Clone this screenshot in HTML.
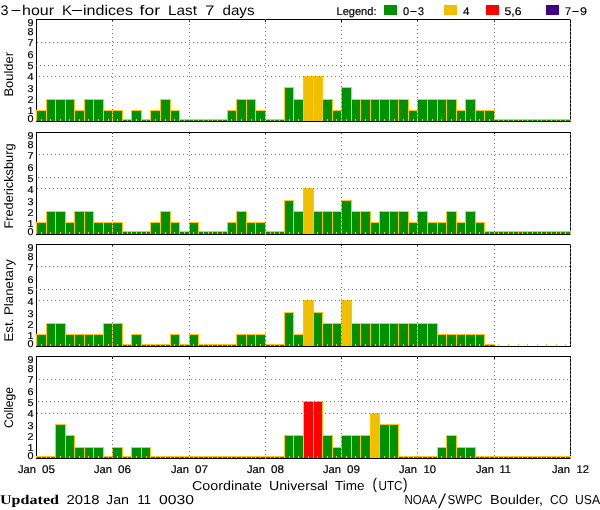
<!DOCTYPE html>
<html lang="en">
<head>
<meta charset="utf-8">
<title>3-hour K-indices for Last 7 days</title>
<style>
html,body{margin:0;padding:0;background:#fff;}
body{width:600px;height:510px;overflow:hidden;}
svg{display:block;}
text{font-family:"Liberation Sans",sans-serif;fill:#000;text-rendering:geometricPrecision;}
.tk{stroke:#000;stroke-width:.2px;}
</style>
</head>
<body>
<svg width="600" height="510" viewBox="0 0 600 510">
<rect width="600" height="510" fill="#fff"/>
<g shape-rendering="crispEdges">
<rect x="36" y="19" width="535" height="1" fill="#000"/>
<rect x="36" y="19" width="1" height="103" fill="#000"/>
<rect x="570" y="19" width="1" height="103" fill="#000"/>
<rect x="36" y="110" width="11" height="11" fill="#ffc800"/>
<rect x="37" y="111" width="9" height="10" fill="#009000"/>
<rect x="46" y="99" width="10" height="22" fill="#ffc800"/>
<rect x="47" y="100" width="8" height="21" fill="#009000"/>
<rect x="55" y="99" width="11" height="22" fill="#ffc800"/>
<rect x="56" y="100" width="9" height="21" fill="#009000"/>
<rect x="65" y="99" width="10" height="22" fill="#ffc800"/>
<rect x="66" y="100" width="8" height="21" fill="#009000"/>
<rect x="74" y="110" width="11" height="11" fill="#ffc800"/>
<rect x="75" y="111" width="9" height="10" fill="#009000"/>
<rect x="84" y="99" width="10" height="22" fill="#ffc800"/>
<rect x="85" y="100" width="8" height="21" fill="#009000"/>
<rect x="93" y="99" width="11" height="22" fill="#ffc800"/>
<rect x="94" y="100" width="9" height="21" fill="#009000"/>
<rect x="103" y="110" width="10" height="11" fill="#ffc800"/>
<rect x="104" y="111" width="8" height="10" fill="#009000"/>
<rect x="112" y="110" width="11" height="11" fill="#ffc800"/>
<rect x="113" y="111" width="9" height="10" fill="#009000"/>
<rect x="122" y="119" width="10" height="2" fill="#ffc800"/>
<rect x="123" y="120" width="8" height="1" fill="#009000"/>
<rect x="131" y="110" width="11" height="11" fill="#ffc800"/>
<rect x="132" y="111" width="9" height="10" fill="#009000"/>
<rect x="141" y="119" width="10" height="2" fill="#ffc800"/>
<rect x="142" y="120" width="8" height="1" fill="#009000"/>
<rect x="150" y="110" width="11" height="11" fill="#ffc800"/>
<rect x="151" y="111" width="9" height="10" fill="#009000"/>
<rect x="160" y="99" width="11" height="22" fill="#ffc800"/>
<rect x="161" y="100" width="9" height="21" fill="#009000"/>
<rect x="170" y="110" width="10" height="11" fill="#ffc800"/>
<rect x="171" y="111" width="8" height="10" fill="#009000"/>
<rect x="179" y="119" width="11" height="2" fill="#ffc800"/>
<rect x="180" y="120" width="9" height="1" fill="#009000"/>
<rect x="189" y="119" width="10" height="2" fill="#ffc800"/>
<rect x="190" y="120" width="8" height="1" fill="#009000"/>
<rect x="198" y="119" width="11" height="2" fill="#ffc800"/>
<rect x="199" y="120" width="9" height="1" fill="#009000"/>
<rect x="208" y="119" width="10" height="2" fill="#ffc800"/>
<rect x="209" y="120" width="8" height="1" fill="#009000"/>
<rect x="217" y="119" width="11" height="2" fill="#ffc800"/>
<rect x="218" y="120" width="9" height="1" fill="#009000"/>
<rect x="227" y="110" width="10" height="11" fill="#ffc800"/>
<rect x="228" y="111" width="8" height="10" fill="#009000"/>
<rect x="236" y="99" width="11" height="22" fill="#ffc800"/>
<rect x="237" y="100" width="9" height="21" fill="#009000"/>
<rect x="246" y="99" width="10" height="22" fill="#ffc800"/>
<rect x="247" y="100" width="8" height="21" fill="#009000"/>
<rect x="255" y="110" width="11" height="11" fill="#ffc800"/>
<rect x="256" y="111" width="9" height="10" fill="#009000"/>
<rect x="265" y="119" width="10" height="2" fill="#ffc800"/>
<rect x="266" y="120" width="8" height="1" fill="#009000"/>
<rect x="274" y="119" width="11" height="2" fill="#ffc800"/>
<rect x="275" y="120" width="9" height="1" fill="#009000"/>
<rect x="284" y="87" width="10" height="34" fill="#ffc800"/>
<rect x="285" y="88" width="8" height="33" fill="#009000"/>
<rect x="293" y="99" width="11" height="22" fill="#ffc800"/>
<rect x="294" y="100" width="9" height="21" fill="#009000"/>
<rect x="303" y="76" width="11" height="45" fill="#ffc800"/>
<rect x="304" y="77" width="9" height="44" fill="#f0c000"/>
<rect x="313" y="76" width="10" height="45" fill="#ffc800"/>
<rect x="314" y="77" width="8" height="44" fill="#f0c000"/>
<rect x="322" y="99" width="11" height="22" fill="#ffc800"/>
<rect x="323" y="100" width="9" height="21" fill="#009000"/>
<rect x="332" y="110" width="10" height="11" fill="#ffc800"/>
<rect x="333" y="111" width="8" height="10" fill="#009000"/>
<rect x="341" y="87" width="11" height="34" fill="#ffc800"/>
<rect x="342" y="88" width="9" height="33" fill="#009000"/>
<rect x="351" y="99" width="10" height="22" fill="#ffc800"/>
<rect x="352" y="100" width="8" height="21" fill="#009000"/>
<rect x="360" y="99" width="11" height="22" fill="#ffc800"/>
<rect x="361" y="100" width="9" height="21" fill="#009000"/>
<rect x="370" y="99" width="10" height="22" fill="#ffc800"/>
<rect x="371" y="100" width="8" height="21" fill="#009000"/>
<rect x="379" y="99" width="11" height="22" fill="#ffc800"/>
<rect x="380" y="100" width="9" height="21" fill="#009000"/>
<rect x="389" y="99" width="10" height="22" fill="#ffc800"/>
<rect x="390" y="100" width="8" height="21" fill="#009000"/>
<rect x="398" y="99" width="11" height="22" fill="#ffc800"/>
<rect x="399" y="100" width="9" height="21" fill="#009000"/>
<rect x="408" y="110" width="10" height="11" fill="#ffc800"/>
<rect x="409" y="111" width="8" height="10" fill="#009000"/>
<rect x="417" y="99" width="11" height="22" fill="#ffc800"/>
<rect x="418" y="100" width="9" height="21" fill="#009000"/>
<rect x="427" y="99" width="11" height="22" fill="#ffc800"/>
<rect x="428" y="100" width="9" height="21" fill="#009000"/>
<rect x="437" y="99" width="10" height="22" fill="#ffc800"/>
<rect x="438" y="100" width="8" height="21" fill="#009000"/>
<rect x="446" y="99" width="11" height="22" fill="#ffc800"/>
<rect x="447" y="100" width="9" height="21" fill="#009000"/>
<rect x="456" y="110" width="10" height="11" fill="#ffc800"/>
<rect x="457" y="111" width="8" height="10" fill="#009000"/>
<rect x="465" y="99" width="11" height="22" fill="#ffc800"/>
<rect x="466" y="100" width="9" height="21" fill="#009000"/>
<rect x="475" y="110" width="10" height="11" fill="#ffc800"/>
<rect x="476" y="111" width="8" height="10" fill="#009000"/>
<rect x="484" y="110" width="11" height="11" fill="#ffc800"/>
<rect x="485" y="111" width="9" height="10" fill="#009000"/>
<rect x="494" y="119" width="10" height="2" fill="#ffc800"/>
<rect x="495" y="120" width="8" height="1" fill="#009000"/>
<rect x="503" y="119" width="11" height="2" fill="#ffc800"/>
<rect x="504" y="120" width="9" height="1" fill="#009000"/>
<rect x="513" y="119" width="10" height="2" fill="#ffc800"/>
<rect x="514" y="120" width="8" height="1" fill="#009000"/>
<rect x="522" y="119" width="11" height="2" fill="#ffc800"/>
<rect x="523" y="120" width="9" height="1" fill="#009000"/>
<rect x="532" y="119" width="10" height="2" fill="#ffc800"/>
<rect x="533" y="120" width="8" height="1" fill="#009000"/>
<rect x="541" y="119" width="11" height="2" fill="#ffc800"/>
<rect x="542" y="120" width="9" height="1" fill="#009000"/>
<rect x="551" y="119" width="10" height="2" fill="#ffc800"/>
<rect x="552" y="120" width="8" height="1" fill="#009000"/>
<rect x="560" y="119" width="11" height="2" fill="#ffc800"/>
<rect x="561" y="120" width="9" height="1" fill="#009000"/>
<rect x="36" y="121" width="535" height="1" fill="#000"/>
<rect x="41" y="119" width="1" height="2" fill="#ffc800"/>
<rect x="50" y="119" width="1" height="2" fill="#ffc800"/>
<rect x="60" y="119" width="1" height="2" fill="#ffc800"/>
<rect x="69" y="119" width="1" height="2" fill="#ffc800"/>
<rect x="79" y="119" width="1" height="2" fill="#ffc800"/>
<rect x="88" y="119" width="1" height="2" fill="#ffc800"/>
<rect x="98" y="119" width="1" height="2" fill="#ffc800"/>
<rect x="108" y="119" width="1" height="2" fill="#ffc800"/>
<rect x="117" y="119" width="1" height="2" fill="#ffc800"/>
<rect x="127" y="119" width="1" height="2" fill="#ffc800"/>
<rect x="136" y="119" width="1" height="2" fill="#ffc800"/>
<rect x="146" y="119" width="1" height="2" fill="#ffc800"/>
<rect x="155" y="119" width="1" height="2" fill="#ffc800"/>
<rect x="165" y="119" width="1" height="2" fill="#ffc800"/>
<rect x="174" y="119" width="1" height="2" fill="#ffc800"/>
<rect x="184" y="119" width="1" height="2" fill="#ffc800"/>
<rect x="193" y="119" width="1" height="2" fill="#ffc800"/>
<rect x="203" y="119" width="1" height="2" fill="#ffc800"/>
<rect x="212" y="119" width="1" height="2" fill="#ffc800"/>
<rect x="222" y="119" width="1" height="2" fill="#ffc800"/>
<rect x="231" y="119" width="1" height="2" fill="#ffc800"/>
<rect x="241" y="119" width="1" height="2" fill="#ffc800"/>
<rect x="251" y="119" width="1" height="2" fill="#ffc800"/>
<rect x="260" y="119" width="1" height="2" fill="#ffc800"/>
<rect x="270" y="119" width="1" height="2" fill="#ffc800"/>
<rect x="279" y="119" width="1" height="2" fill="#ffc800"/>
<rect x="289" y="119" width="1" height="2" fill="#ffc800"/>
<rect x="298" y="119" width="1" height="2" fill="#ffc800"/>
<rect x="308" y="119" width="1" height="2" fill="#ffc800"/>
<rect x="317" y="119" width="1" height="2" fill="#ffc800"/>
<rect x="327" y="119" width="1" height="2" fill="#ffc800"/>
<rect x="336" y="119" width="1" height="2" fill="#ffc800"/>
<rect x="346" y="119" width="1" height="2" fill="#ffc800"/>
<rect x="355" y="119" width="1" height="2" fill="#ffc800"/>
<rect x="365" y="119" width="1" height="2" fill="#ffc800"/>
<rect x="375" y="119" width="1" height="2" fill="#ffc800"/>
<rect x="384" y="119" width="1" height="2" fill="#ffc800"/>
<rect x="394" y="119" width="1" height="2" fill="#ffc800"/>
<rect x="403" y="119" width="1" height="2" fill="#ffc800"/>
<rect x="413" y="119" width="1" height="2" fill="#ffc800"/>
<rect x="422" y="119" width="1" height="2" fill="#ffc800"/>
<rect x="432" y="119" width="1" height="2" fill="#ffc800"/>
<rect x="441" y="119" width="1" height="2" fill="#ffc800"/>
<rect x="451" y="119" width="1" height="2" fill="#ffc800"/>
<rect x="460" y="119" width="1" height="2" fill="#ffc800"/>
<rect x="470" y="119" width="1" height="2" fill="#ffc800"/>
<rect x="479" y="119" width="1" height="2" fill="#ffc800"/>
<rect x="489" y="119" width="1" height="2" fill="#ffc800"/>
<rect x="498" y="119" width="1" height="2" fill="#ffc800"/>
<rect x="508" y="119" width="1" height="2" fill="#ffc800"/>
<rect x="518" y="119" width="1" height="2" fill="#ffc800"/>
<rect x="527" y="119" width="1" height="2" fill="#ffc800"/>
<rect x="537" y="119" width="1" height="2" fill="#ffc800"/>
<rect x="546" y="119" width="1" height="2" fill="#ffc800"/>
<rect x="556" y="119" width="1" height="2" fill="#ffc800"/>
<rect x="565" y="119" width="1" height="2" fill="#ffc800"/>
<rect x="112" y="20" width="1" height="2" fill="#000"/>
<rect x="189" y="20" width="1" height="2" fill="#000"/>
<rect x="265" y="20" width="1" height="2" fill="#000"/>
<rect x="341" y="20" width="1" height="2" fill="#000"/>
<rect x="417" y="20" width="1" height="2" fill="#000"/>
<rect x="494" y="20" width="1" height="2" fill="#000"/>
<line x1="112.5" y1="122" x2="112.5" y2="19" stroke="#787878" stroke-dasharray="1 3"/>
<line x1="189.5" y1="121" x2="189.5" y2="19" stroke="#787878" stroke-dasharray="1 3"/>
<line x1="265.5" y1="120" x2="265.5" y2="19" stroke="#787878" stroke-dasharray="1 3"/>
<line x1="341.5" y1="119" x2="341.5" y2="19" stroke="#787878" stroke-dasharray="1 3"/>
<line x1="417.5" y1="122" x2="417.5" y2="19" stroke="#787878" stroke-dasharray="1 3"/>
<line x1="494.5" y1="121" x2="494.5" y2="19" stroke="#787878" stroke-dasharray="1 3"/>
<line x1="570.5" y1="120" x2="570.5" y2="19" stroke="#787878" stroke-dasharray="1 3"/>
<line x1="39" y1="76.5" x2="571" y2="76.5" stroke="#787878" stroke-dasharray="1 3"/>
<line x1="36" y1="65.5" x2="571" y2="65.5" stroke="#787878" stroke-dasharray="1 3"/>
<line x1="37" y1="42.5" x2="571" y2="42.5" stroke="#787878" stroke-dasharray="1 3"/>
<rect x="36" y="132" width="535" height="1" fill="#000"/>
<rect x="36" y="132" width="1" height="103" fill="#000"/>
<rect x="570" y="132" width="1" height="103" fill="#000"/>
<rect x="36" y="222" width="11" height="12" fill="#ffc800"/>
<rect x="37" y="223" width="9" height="11" fill="#009000"/>
<rect x="46" y="211" width="10" height="23" fill="#ffc800"/>
<rect x="47" y="212" width="8" height="22" fill="#009000"/>
<rect x="55" y="211" width="11" height="23" fill="#ffc800"/>
<rect x="56" y="212" width="9" height="22" fill="#009000"/>
<rect x="65" y="222" width="10" height="12" fill="#ffc800"/>
<rect x="66" y="223" width="8" height="11" fill="#009000"/>
<rect x="74" y="211" width="11" height="23" fill="#ffc800"/>
<rect x="75" y="212" width="9" height="22" fill="#009000"/>
<rect x="84" y="211" width="10" height="23" fill="#ffc800"/>
<rect x="85" y="212" width="8" height="22" fill="#009000"/>
<rect x="93" y="222" width="11" height="12" fill="#ffc800"/>
<rect x="94" y="223" width="9" height="11" fill="#009000"/>
<rect x="103" y="222" width="10" height="12" fill="#ffc800"/>
<rect x="104" y="223" width="8" height="11" fill="#009000"/>
<rect x="112" y="222" width="11" height="12" fill="#ffc800"/>
<rect x="113" y="223" width="9" height="11" fill="#009000"/>
<rect x="122" y="231" width="10" height="3" fill="#ffc800"/>
<rect x="123" y="232" width="8" height="2" fill="#009000"/>
<rect x="131" y="231" width="11" height="3" fill="#ffc800"/>
<rect x="132" y="232" width="9" height="2" fill="#009000"/>
<rect x="141" y="231" width="10" height="3" fill="#ffc800"/>
<rect x="142" y="232" width="8" height="2" fill="#009000"/>
<rect x="150" y="222" width="11" height="12" fill="#ffc800"/>
<rect x="151" y="223" width="9" height="11" fill="#009000"/>
<rect x="160" y="211" width="11" height="23" fill="#ffc800"/>
<rect x="161" y="212" width="9" height="22" fill="#009000"/>
<rect x="170" y="222" width="10" height="12" fill="#ffc800"/>
<rect x="171" y="223" width="8" height="11" fill="#009000"/>
<rect x="179" y="231" width="11" height="3" fill="#ffc800"/>
<rect x="180" y="232" width="9" height="2" fill="#009000"/>
<rect x="189" y="222" width="10" height="12" fill="#ffc800"/>
<rect x="190" y="223" width="8" height="11" fill="#009000"/>
<rect x="198" y="231" width="11" height="3" fill="#ffc800"/>
<rect x="199" y="232" width="9" height="2" fill="#009000"/>
<rect x="208" y="231" width="10" height="3" fill="#ffc800"/>
<rect x="209" y="232" width="8" height="2" fill="#009000"/>
<rect x="217" y="231" width="11" height="3" fill="#ffc800"/>
<rect x="218" y="232" width="9" height="2" fill="#009000"/>
<rect x="227" y="222" width="10" height="12" fill="#ffc800"/>
<rect x="228" y="223" width="8" height="11" fill="#009000"/>
<rect x="236" y="211" width="11" height="23" fill="#ffc800"/>
<rect x="237" y="212" width="9" height="22" fill="#009000"/>
<rect x="246" y="222" width="10" height="12" fill="#ffc800"/>
<rect x="247" y="223" width="8" height="11" fill="#009000"/>
<rect x="255" y="222" width="11" height="12" fill="#ffc800"/>
<rect x="256" y="223" width="9" height="11" fill="#009000"/>
<rect x="265" y="231" width="10" height="3" fill="#ffc800"/>
<rect x="266" y="232" width="8" height="2" fill="#009000"/>
<rect x="274" y="231" width="11" height="3" fill="#ffc800"/>
<rect x="275" y="232" width="9" height="2" fill="#009000"/>
<rect x="284" y="200" width="10" height="34" fill="#ffc800"/>
<rect x="285" y="201" width="8" height="33" fill="#009000"/>
<rect x="293" y="211" width="11" height="23" fill="#ffc800"/>
<rect x="294" y="212" width="9" height="22" fill="#009000"/>
<rect x="303" y="188" width="11" height="46" fill="#ffc800"/>
<rect x="304" y="189" width="9" height="45" fill="#f0c000"/>
<rect x="313" y="211" width="10" height="23" fill="#ffc800"/>
<rect x="314" y="212" width="8" height="22" fill="#009000"/>
<rect x="322" y="211" width="11" height="23" fill="#ffc800"/>
<rect x="323" y="212" width="9" height="22" fill="#009000"/>
<rect x="332" y="211" width="10" height="23" fill="#ffc800"/>
<rect x="333" y="212" width="8" height="22" fill="#009000"/>
<rect x="341" y="200" width="11" height="34" fill="#ffc800"/>
<rect x="342" y="201" width="9" height="33" fill="#009000"/>
<rect x="351" y="211" width="10" height="23" fill="#ffc800"/>
<rect x="352" y="212" width="8" height="22" fill="#009000"/>
<rect x="360" y="211" width="11" height="23" fill="#ffc800"/>
<rect x="361" y="212" width="9" height="22" fill="#009000"/>
<rect x="370" y="222" width="10" height="12" fill="#ffc800"/>
<rect x="371" y="223" width="8" height="11" fill="#009000"/>
<rect x="379" y="211" width="11" height="23" fill="#ffc800"/>
<rect x="380" y="212" width="9" height="22" fill="#009000"/>
<rect x="389" y="211" width="10" height="23" fill="#ffc800"/>
<rect x="390" y="212" width="8" height="22" fill="#009000"/>
<rect x="398" y="211" width="11" height="23" fill="#ffc800"/>
<rect x="399" y="212" width="9" height="22" fill="#009000"/>
<rect x="408" y="222" width="10" height="12" fill="#ffc800"/>
<rect x="409" y="223" width="8" height="11" fill="#009000"/>
<rect x="417" y="211" width="11" height="23" fill="#ffc800"/>
<rect x="418" y="212" width="9" height="22" fill="#009000"/>
<rect x="427" y="222" width="11" height="12" fill="#ffc800"/>
<rect x="428" y="223" width="9" height="11" fill="#009000"/>
<rect x="437" y="222" width="10" height="12" fill="#ffc800"/>
<rect x="438" y="223" width="8" height="11" fill="#009000"/>
<rect x="446" y="211" width="11" height="23" fill="#ffc800"/>
<rect x="447" y="212" width="9" height="22" fill="#009000"/>
<rect x="456" y="222" width="10" height="12" fill="#ffc800"/>
<rect x="457" y="223" width="8" height="11" fill="#009000"/>
<rect x="465" y="211" width="11" height="23" fill="#ffc800"/>
<rect x="466" y="212" width="9" height="22" fill="#009000"/>
<rect x="475" y="222" width="10" height="12" fill="#ffc800"/>
<rect x="476" y="223" width="8" height="11" fill="#009000"/>
<rect x="484" y="231" width="11" height="3" fill="#ffc800"/>
<rect x="485" y="232" width="9" height="2" fill="#009000"/>
<rect x="494" y="231" width="10" height="3" fill="#ffc800"/>
<rect x="495" y="232" width="8" height="2" fill="#009000"/>
<rect x="503" y="231" width="11" height="3" fill="#ffc800"/>
<rect x="504" y="232" width="9" height="2" fill="#009000"/>
<rect x="513" y="231" width="10" height="3" fill="#ffc800"/>
<rect x="514" y="232" width="8" height="2" fill="#009000"/>
<rect x="522" y="231" width="11" height="3" fill="#ffc800"/>
<rect x="523" y="232" width="9" height="2" fill="#009000"/>
<rect x="532" y="231" width="10" height="3" fill="#ffc800"/>
<rect x="533" y="232" width="8" height="2" fill="#009000"/>
<rect x="541" y="231" width="11" height="3" fill="#ffc800"/>
<rect x="542" y="232" width="9" height="2" fill="#009000"/>
<rect x="551" y="231" width="10" height="3" fill="#ffc800"/>
<rect x="552" y="232" width="8" height="2" fill="#009000"/>
<rect x="560" y="231" width="11" height="3" fill="#ffc800"/>
<rect x="561" y="232" width="9" height="2" fill="#009000"/>
<rect x="36" y="234" width="535" height="1" fill="#000"/>
<rect x="41" y="232" width="1" height="2" fill="#ffc800"/>
<rect x="50" y="232" width="1" height="2" fill="#ffc800"/>
<rect x="60" y="232" width="1" height="2" fill="#ffc800"/>
<rect x="69" y="232" width="1" height="2" fill="#ffc800"/>
<rect x="79" y="232" width="1" height="2" fill="#ffc800"/>
<rect x="88" y="232" width="1" height="2" fill="#ffc800"/>
<rect x="98" y="232" width="1" height="2" fill="#ffc800"/>
<rect x="108" y="232" width="1" height="2" fill="#ffc800"/>
<rect x="117" y="232" width="1" height="2" fill="#ffc800"/>
<rect x="127" y="232" width="1" height="2" fill="#ffc800"/>
<rect x="136" y="232" width="1" height="2" fill="#ffc800"/>
<rect x="146" y="232" width="1" height="2" fill="#ffc800"/>
<rect x="155" y="232" width="1" height="2" fill="#ffc800"/>
<rect x="165" y="232" width="1" height="2" fill="#ffc800"/>
<rect x="174" y="232" width="1" height="2" fill="#ffc800"/>
<rect x="184" y="232" width="1" height="2" fill="#ffc800"/>
<rect x="193" y="232" width="1" height="2" fill="#ffc800"/>
<rect x="203" y="232" width="1" height="2" fill="#ffc800"/>
<rect x="212" y="232" width="1" height="2" fill="#ffc800"/>
<rect x="222" y="232" width="1" height="2" fill="#ffc800"/>
<rect x="231" y="232" width="1" height="2" fill="#ffc800"/>
<rect x="241" y="232" width="1" height="2" fill="#ffc800"/>
<rect x="251" y="232" width="1" height="2" fill="#ffc800"/>
<rect x="260" y="232" width="1" height="2" fill="#ffc800"/>
<rect x="270" y="232" width="1" height="2" fill="#ffc800"/>
<rect x="279" y="232" width="1" height="2" fill="#ffc800"/>
<rect x="289" y="232" width="1" height="2" fill="#ffc800"/>
<rect x="298" y="232" width="1" height="2" fill="#ffc800"/>
<rect x="308" y="232" width="1" height="2" fill="#ffc800"/>
<rect x="317" y="232" width="1" height="2" fill="#ffc800"/>
<rect x="327" y="232" width="1" height="2" fill="#ffc800"/>
<rect x="336" y="232" width="1" height="2" fill="#ffc800"/>
<rect x="346" y="232" width="1" height="2" fill="#ffc800"/>
<rect x="355" y="232" width="1" height="2" fill="#ffc800"/>
<rect x="365" y="232" width="1" height="2" fill="#ffc800"/>
<rect x="375" y="232" width="1" height="2" fill="#ffc800"/>
<rect x="384" y="232" width="1" height="2" fill="#ffc800"/>
<rect x="394" y="232" width="1" height="2" fill="#ffc800"/>
<rect x="403" y="232" width="1" height="2" fill="#ffc800"/>
<rect x="413" y="232" width="1" height="2" fill="#ffc800"/>
<rect x="422" y="232" width="1" height="2" fill="#ffc800"/>
<rect x="432" y="232" width="1" height="2" fill="#ffc800"/>
<rect x="441" y="232" width="1" height="2" fill="#ffc800"/>
<rect x="451" y="232" width="1" height="2" fill="#ffc800"/>
<rect x="460" y="232" width="1" height="2" fill="#ffc800"/>
<rect x="470" y="232" width="1" height="2" fill="#ffc800"/>
<rect x="479" y="232" width="1" height="2" fill="#ffc800"/>
<rect x="489" y="232" width="1" height="2" fill="#ffc800"/>
<rect x="498" y="232" width="1" height="2" fill="#ffc800"/>
<rect x="508" y="232" width="1" height="2" fill="#ffc800"/>
<rect x="518" y="232" width="1" height="2" fill="#ffc800"/>
<rect x="527" y="232" width="1" height="2" fill="#ffc800"/>
<rect x="537" y="232" width="1" height="2" fill="#ffc800"/>
<rect x="546" y="232" width="1" height="2" fill="#ffc800"/>
<rect x="556" y="232" width="1" height="2" fill="#ffc800"/>
<rect x="565" y="232" width="1" height="2" fill="#ffc800"/>
<rect x="112" y="133" width="1" height="1" fill="#000"/>
<rect x="189" y="133" width="1" height="1" fill="#000"/>
<rect x="265" y="133" width="1" height="1" fill="#000"/>
<rect x="341" y="133" width="1" height="1" fill="#000"/>
<rect x="417" y="133" width="1" height="1" fill="#000"/>
<rect x="494" y="133" width="1" height="1" fill="#000"/>
<line x1="112.5" y1="233" x2="112.5" y2="132" stroke="#787878" stroke-dasharray="1 3"/>
<line x1="189.5" y1="232" x2="189.5" y2="132" stroke="#787878" stroke-dasharray="1 3"/>
<line x1="265.5" y1="235" x2="265.5" y2="132" stroke="#787878" stroke-dasharray="1 3"/>
<line x1="341.5" y1="234" x2="341.5" y2="132" stroke="#787878" stroke-dasharray="1 3"/>
<line x1="417.5" y1="233" x2="417.5" y2="132" stroke="#787878" stroke-dasharray="1 3"/>
<line x1="494.5" y1="232" x2="494.5" y2="132" stroke="#787878" stroke-dasharray="1 3"/>
<line x1="570.5" y1="235" x2="570.5" y2="132" stroke="#787878" stroke-dasharray="1 3"/>
<line x1="37" y1="188.5" x2="571" y2="188.5" stroke="#787878" stroke-dasharray="1 3"/>
<line x1="38" y1="177.5" x2="571" y2="177.5" stroke="#787878" stroke-dasharray="1 3"/>
<line x1="39" y1="154.5" x2="571" y2="154.5" stroke="#787878" stroke-dasharray="1 3"/>
<rect x="36" y="244" width="535" height="1" fill="#000"/>
<rect x="36" y="244" width="1" height="103" fill="#000"/>
<rect x="570" y="244" width="1" height="103" fill="#000"/>
<rect x="36" y="334" width="11" height="12" fill="#ffc800"/>
<rect x="37" y="335" width="9" height="11" fill="#009000"/>
<rect x="46" y="323" width="10" height="23" fill="#ffc800"/>
<rect x="47" y="324" width="8" height="22" fill="#009000"/>
<rect x="55" y="323" width="11" height="23" fill="#ffc800"/>
<rect x="56" y="324" width="9" height="22" fill="#009000"/>
<rect x="65" y="334" width="10" height="12" fill="#ffc800"/>
<rect x="66" y="335" width="8" height="11" fill="#009000"/>
<rect x="74" y="334" width="11" height="12" fill="#ffc800"/>
<rect x="75" y="335" width="9" height="11" fill="#009000"/>
<rect x="84" y="334" width="10" height="12" fill="#ffc800"/>
<rect x="85" y="335" width="8" height="11" fill="#009000"/>
<rect x="93" y="334" width="11" height="12" fill="#ffc800"/>
<rect x="94" y="335" width="9" height="11" fill="#009000"/>
<rect x="103" y="323" width="10" height="23" fill="#ffc800"/>
<rect x="104" y="324" width="8" height="22" fill="#009000"/>
<rect x="112" y="323" width="11" height="23" fill="#ffc800"/>
<rect x="113" y="324" width="9" height="22" fill="#009000"/>
<rect x="122" y="344" width="10" height="2" fill="#ffc800"/>
<rect x="123" y="345" width="8" height="1" fill="#009000"/>
<rect x="131" y="334" width="11" height="12" fill="#ffc800"/>
<rect x="132" y="335" width="9" height="11" fill="#009000"/>
<rect x="141" y="344" width="10" height="2" fill="#ffc800"/>
<rect x="142" y="345" width="8" height="1" fill="#009000"/>
<rect x="150" y="344" width="11" height="2" fill="#ffc800"/>
<rect x="151" y="345" width="9" height="1" fill="#009000"/>
<rect x="160" y="344" width="11" height="2" fill="#ffc800"/>
<rect x="161" y="345" width="9" height="1" fill="#009000"/>
<rect x="170" y="334" width="10" height="12" fill="#ffc800"/>
<rect x="171" y="335" width="8" height="11" fill="#009000"/>
<rect x="179" y="344" width="11" height="2" fill="#ffc800"/>
<rect x="180" y="345" width="9" height="1" fill="#009000"/>
<rect x="189" y="334" width="10" height="12" fill="#ffc800"/>
<rect x="190" y="335" width="8" height="11" fill="#009000"/>
<rect x="198" y="344" width="11" height="2" fill="#ffc800"/>
<rect x="199" y="345" width="9" height="1" fill="#009000"/>
<rect x="208" y="344" width="10" height="2" fill="#ffc800"/>
<rect x="209" y="345" width="8" height="1" fill="#009000"/>
<rect x="217" y="344" width="11" height="2" fill="#ffc800"/>
<rect x="218" y="345" width="9" height="1" fill="#009000"/>
<rect x="227" y="344" width="10" height="2" fill="#ffc800"/>
<rect x="228" y="345" width="8" height="1" fill="#009000"/>
<rect x="236" y="334" width="11" height="12" fill="#ffc800"/>
<rect x="237" y="335" width="9" height="11" fill="#009000"/>
<rect x="246" y="334" width="10" height="12" fill="#ffc800"/>
<rect x="247" y="335" width="8" height="11" fill="#009000"/>
<rect x="255" y="334" width="11" height="12" fill="#ffc800"/>
<rect x="256" y="335" width="9" height="11" fill="#009000"/>
<rect x="265" y="344" width="10" height="2" fill="#ffc800"/>
<rect x="266" y="345" width="8" height="1" fill="#009000"/>
<rect x="274" y="344" width="11" height="2" fill="#ffc800"/>
<rect x="275" y="345" width="9" height="1" fill="#009000"/>
<rect x="284" y="312" width="10" height="34" fill="#ffc800"/>
<rect x="285" y="313" width="8" height="33" fill="#009000"/>
<rect x="293" y="334" width="11" height="12" fill="#ffc800"/>
<rect x="294" y="335" width="9" height="11" fill="#009000"/>
<rect x="303" y="300" width="11" height="46" fill="#ffc800"/>
<rect x="304" y="301" width="9" height="45" fill="#f0c000"/>
<rect x="313" y="312" width="10" height="34" fill="#ffc800"/>
<rect x="314" y="313" width="8" height="33" fill="#009000"/>
<rect x="322" y="323" width="11" height="23" fill="#ffc800"/>
<rect x="323" y="324" width="9" height="22" fill="#009000"/>
<rect x="332" y="323" width="10" height="23" fill="#ffc800"/>
<rect x="333" y="324" width="8" height="22" fill="#009000"/>
<rect x="341" y="300" width="11" height="46" fill="#ffc800"/>
<rect x="342" y="301" width="9" height="45" fill="#f0c000"/>
<rect x="351" y="323" width="10" height="23" fill="#ffc800"/>
<rect x="352" y="324" width="8" height="22" fill="#009000"/>
<rect x="360" y="323" width="11" height="23" fill="#ffc800"/>
<rect x="361" y="324" width="9" height="22" fill="#009000"/>
<rect x="370" y="323" width="10" height="23" fill="#ffc800"/>
<rect x="371" y="324" width="8" height="22" fill="#009000"/>
<rect x="379" y="323" width="11" height="23" fill="#ffc800"/>
<rect x="380" y="324" width="9" height="22" fill="#009000"/>
<rect x="389" y="323" width="10" height="23" fill="#ffc800"/>
<rect x="390" y="324" width="8" height="22" fill="#009000"/>
<rect x="398" y="323" width="11" height="23" fill="#ffc800"/>
<rect x="399" y="324" width="9" height="22" fill="#009000"/>
<rect x="408" y="323" width="10" height="23" fill="#ffc800"/>
<rect x="409" y="324" width="8" height="22" fill="#009000"/>
<rect x="417" y="323" width="11" height="23" fill="#ffc800"/>
<rect x="418" y="324" width="9" height="22" fill="#009000"/>
<rect x="427" y="323" width="11" height="23" fill="#ffc800"/>
<rect x="428" y="324" width="9" height="22" fill="#009000"/>
<rect x="437" y="334" width="10" height="12" fill="#ffc800"/>
<rect x="438" y="335" width="8" height="11" fill="#009000"/>
<rect x="446" y="334" width="11" height="12" fill="#ffc800"/>
<rect x="447" y="335" width="9" height="11" fill="#009000"/>
<rect x="456" y="334" width="10" height="12" fill="#ffc800"/>
<rect x="457" y="335" width="8" height="11" fill="#009000"/>
<rect x="465" y="334" width="11" height="12" fill="#ffc800"/>
<rect x="466" y="335" width="9" height="11" fill="#009000"/>
<rect x="475" y="334" width="10" height="12" fill="#ffc800"/>
<rect x="476" y="335" width="8" height="11" fill="#009000"/>
<rect x="484" y="344" width="11" height="2" fill="#ffc800"/>
<rect x="485" y="345" width="9" height="1" fill="#009000"/>
<rect x="36" y="346" width="535" height="1" fill="#000"/>
<rect x="41" y="344" width="1" height="2" fill="#ffc800"/>
<rect x="50" y="344" width="1" height="2" fill="#ffc800"/>
<rect x="60" y="344" width="1" height="2" fill="#ffc800"/>
<rect x="69" y="344" width="1" height="2" fill="#ffc800"/>
<rect x="79" y="344" width="1" height="2" fill="#ffc800"/>
<rect x="88" y="344" width="1" height="2" fill="#ffc800"/>
<rect x="98" y="344" width="1" height="2" fill="#ffc800"/>
<rect x="108" y="344" width="1" height="2" fill="#ffc800"/>
<rect x="117" y="344" width="1" height="2" fill="#ffc800"/>
<rect x="127" y="344" width="1" height="2" fill="#ffc800"/>
<rect x="136" y="344" width="1" height="2" fill="#ffc800"/>
<rect x="146" y="344" width="1" height="2" fill="#ffc800"/>
<rect x="155" y="344" width="1" height="2" fill="#ffc800"/>
<rect x="165" y="344" width="1" height="2" fill="#ffc800"/>
<rect x="174" y="344" width="1" height="2" fill="#ffc800"/>
<rect x="184" y="344" width="1" height="2" fill="#ffc800"/>
<rect x="193" y="344" width="1" height="2" fill="#ffc800"/>
<rect x="203" y="344" width="1" height="2" fill="#ffc800"/>
<rect x="212" y="344" width="1" height="2" fill="#ffc800"/>
<rect x="222" y="344" width="1" height="2" fill="#ffc800"/>
<rect x="231" y="344" width="1" height="2" fill="#ffc800"/>
<rect x="241" y="344" width="1" height="2" fill="#ffc800"/>
<rect x="251" y="344" width="1" height="2" fill="#ffc800"/>
<rect x="260" y="344" width="1" height="2" fill="#ffc800"/>
<rect x="270" y="344" width="1" height="2" fill="#ffc800"/>
<rect x="279" y="344" width="1" height="2" fill="#ffc800"/>
<rect x="289" y="344" width="1" height="2" fill="#ffc800"/>
<rect x="298" y="344" width="1" height="2" fill="#ffc800"/>
<rect x="308" y="344" width="1" height="2" fill="#ffc800"/>
<rect x="317" y="344" width="1" height="2" fill="#ffc800"/>
<rect x="327" y="344" width="1" height="2" fill="#ffc800"/>
<rect x="336" y="344" width="1" height="2" fill="#ffc800"/>
<rect x="346" y="344" width="1" height="2" fill="#ffc800"/>
<rect x="355" y="344" width="1" height="2" fill="#ffc800"/>
<rect x="365" y="344" width="1" height="2" fill="#ffc800"/>
<rect x="375" y="344" width="1" height="2" fill="#ffc800"/>
<rect x="384" y="344" width="1" height="2" fill="#ffc800"/>
<rect x="394" y="344" width="1" height="2" fill="#ffc800"/>
<rect x="403" y="344" width="1" height="2" fill="#ffc800"/>
<rect x="413" y="344" width="1" height="2" fill="#ffc800"/>
<rect x="422" y="344" width="1" height="2" fill="#ffc800"/>
<rect x="432" y="344" width="1" height="2" fill="#ffc800"/>
<rect x="441" y="344" width="1" height="2" fill="#ffc800"/>
<rect x="451" y="344" width="1" height="2" fill="#ffc800"/>
<rect x="460" y="344" width="1" height="2" fill="#ffc800"/>
<rect x="470" y="344" width="1" height="2" fill="#ffc800"/>
<rect x="479" y="344" width="1" height="2" fill="#ffc800"/>
<rect x="489" y="344" width="1" height="2" fill="#ffc800"/>
<rect x="498" y="344" width="1" height="2" fill="#ffc800"/>
<rect x="508" y="344" width="1" height="2" fill="#ffc800"/>
<rect x="518" y="344" width="1" height="2" fill="#ffc800"/>
<rect x="527" y="344" width="1" height="2" fill="#ffc800"/>
<rect x="537" y="344" width="1" height="2" fill="#ffc800"/>
<rect x="546" y="344" width="1" height="2" fill="#ffc800"/>
<rect x="556" y="344" width="1" height="2" fill="#ffc800"/>
<rect x="565" y="344" width="1" height="2" fill="#ffc800"/>
<rect x="112" y="245" width="1" height="1" fill="#000"/>
<rect x="189" y="245" width="1" height="1" fill="#000"/>
<rect x="265" y="245" width="1" height="1" fill="#000"/>
<rect x="341" y="245" width="1" height="1" fill="#000"/>
<rect x="417" y="245" width="1" height="1" fill="#000"/>
<rect x="494" y="245" width="1" height="1" fill="#000"/>
<line x1="112.5" y1="347" x2="112.5" y2="244" stroke="#787878" stroke-dasharray="1 3"/>
<line x1="189.5" y1="346" x2="189.5" y2="244" stroke="#787878" stroke-dasharray="1 3"/>
<line x1="265.5" y1="345" x2="265.5" y2="244" stroke="#787878" stroke-dasharray="1 3"/>
<line x1="341.5" y1="344" x2="341.5" y2="244" stroke="#787878" stroke-dasharray="1 3"/>
<line x1="417.5" y1="347" x2="417.5" y2="244" stroke="#787878" stroke-dasharray="1 3"/>
<line x1="494.5" y1="346" x2="494.5" y2="244" stroke="#787878" stroke-dasharray="1 3"/>
<line x1="570.5" y1="345" x2="570.5" y2="244" stroke="#787878" stroke-dasharray="1 3"/>
<line x1="39" y1="300.5" x2="571" y2="300.5" stroke="#787878" stroke-dasharray="1 3"/>
<line x1="36" y1="289.5" x2="571" y2="289.5" stroke="#787878" stroke-dasharray="1 3"/>
<line x1="37" y1="266.5" x2="571" y2="266.5" stroke="#787878" stroke-dasharray="1 3"/>
<rect x="36" y="356" width="535" height="1" fill="#000"/>
<rect x="36" y="356" width="1" height="103" fill="#000"/>
<rect x="570" y="356" width="1" height="103" fill="#000"/>
<rect x="36" y="456" width="11" height="2" fill="#ffc800"/>
<rect x="37" y="457" width="9" height="1" fill="#009000"/>
<rect x="46" y="456" width="10" height="2" fill="#ffc800"/>
<rect x="47" y="457" width="8" height="1" fill="#009000"/>
<rect x="55" y="424" width="11" height="34" fill="#ffc800"/>
<rect x="56" y="425" width="9" height="33" fill="#009000"/>
<rect x="65" y="435" width="10" height="23" fill="#ffc800"/>
<rect x="66" y="436" width="8" height="22" fill="#009000"/>
<rect x="74" y="447" width="11" height="11" fill="#ffc800"/>
<rect x="75" y="448" width="9" height="10" fill="#009000"/>
<rect x="84" y="447" width="10" height="11" fill="#ffc800"/>
<rect x="85" y="448" width="8" height="10" fill="#009000"/>
<rect x="93" y="447" width="11" height="11" fill="#ffc800"/>
<rect x="94" y="448" width="9" height="10" fill="#009000"/>
<rect x="103" y="456" width="10" height="2" fill="#ffc800"/>
<rect x="104" y="457" width="8" height="1" fill="#009000"/>
<rect x="112" y="447" width="11" height="11" fill="#ffc800"/>
<rect x="113" y="448" width="9" height="10" fill="#009000"/>
<rect x="122" y="456" width="10" height="2" fill="#ffc800"/>
<rect x="123" y="457" width="8" height="1" fill="#009000"/>
<rect x="131" y="447" width="11" height="11" fill="#ffc800"/>
<rect x="132" y="448" width="9" height="10" fill="#009000"/>
<rect x="141" y="447" width="10" height="11" fill="#ffc800"/>
<rect x="142" y="448" width="8" height="10" fill="#009000"/>
<rect x="150" y="456" width="11" height="2" fill="#ffc800"/>
<rect x="151" y="457" width="9" height="1" fill="#009000"/>
<rect x="160" y="456" width="11" height="2" fill="#ffc800"/>
<rect x="161" y="457" width="9" height="1" fill="#009000"/>
<rect x="170" y="456" width="10" height="2" fill="#ffc800"/>
<rect x="171" y="457" width="8" height="1" fill="#009000"/>
<rect x="179" y="456" width="11" height="2" fill="#ffc800"/>
<rect x="180" y="457" width="9" height="1" fill="#009000"/>
<rect x="189" y="456" width="10" height="2" fill="#ffc800"/>
<rect x="190" y="457" width="8" height="1" fill="#009000"/>
<rect x="198" y="456" width="11" height="2" fill="#ffc800"/>
<rect x="199" y="457" width="9" height="1" fill="#009000"/>
<rect x="208" y="456" width="10" height="2" fill="#ffc800"/>
<rect x="209" y="457" width="8" height="1" fill="#009000"/>
<rect x="217" y="456" width="11" height="2" fill="#ffc800"/>
<rect x="218" y="457" width="9" height="1" fill="#009000"/>
<rect x="227" y="456" width="10" height="2" fill="#ffc800"/>
<rect x="228" y="457" width="8" height="1" fill="#009000"/>
<rect x="236" y="456" width="11" height="2" fill="#ffc800"/>
<rect x="237" y="457" width="9" height="1" fill="#009000"/>
<rect x="246" y="456" width="10" height="2" fill="#ffc800"/>
<rect x="247" y="457" width="8" height="1" fill="#009000"/>
<rect x="255" y="456" width="11" height="2" fill="#ffc800"/>
<rect x="256" y="457" width="9" height="1" fill="#009000"/>
<rect x="265" y="456" width="10" height="2" fill="#ffc800"/>
<rect x="266" y="457" width="8" height="1" fill="#009000"/>
<rect x="274" y="456" width="11" height="2" fill="#ffc800"/>
<rect x="275" y="457" width="9" height="1" fill="#009000"/>
<rect x="284" y="435" width="10" height="23" fill="#ffc800"/>
<rect x="285" y="436" width="8" height="22" fill="#009000"/>
<rect x="293" y="435" width="11" height="23" fill="#ffc800"/>
<rect x="294" y="436" width="9" height="22" fill="#009000"/>
<rect x="303" y="401" width="11" height="57" fill="#ffc800"/>
<rect x="304" y="402" width="9" height="56" fill="#ff0000"/>
<rect x="313" y="401" width="10" height="57" fill="#ffc800"/>
<rect x="314" y="402" width="8" height="56" fill="#ff0000"/>
<rect x="322" y="435" width="11" height="23" fill="#ffc800"/>
<rect x="323" y="436" width="9" height="22" fill="#009000"/>
<rect x="332" y="447" width="10" height="11" fill="#ffc800"/>
<rect x="333" y="448" width="8" height="10" fill="#009000"/>
<rect x="341" y="435" width="11" height="23" fill="#ffc800"/>
<rect x="342" y="436" width="9" height="22" fill="#009000"/>
<rect x="351" y="435" width="10" height="23" fill="#ffc800"/>
<rect x="352" y="436" width="8" height="22" fill="#009000"/>
<rect x="360" y="435" width="11" height="23" fill="#ffc800"/>
<rect x="361" y="436" width="9" height="22" fill="#009000"/>
<rect x="370" y="413" width="10" height="45" fill="#ffc800"/>
<rect x="371" y="414" width="8" height="44" fill="#f0c000"/>
<rect x="379" y="424" width="11" height="34" fill="#ffc800"/>
<rect x="380" y="425" width="9" height="33" fill="#009000"/>
<rect x="389" y="424" width="10" height="34" fill="#ffc800"/>
<rect x="390" y="425" width="8" height="33" fill="#009000"/>
<rect x="398" y="456" width="11" height="2" fill="#ffc800"/>
<rect x="399" y="457" width="9" height="1" fill="#009000"/>
<rect x="408" y="456" width="10" height="2" fill="#ffc800"/>
<rect x="409" y="457" width="8" height="1" fill="#009000"/>
<rect x="417" y="456" width="11" height="2" fill="#ffc800"/>
<rect x="418" y="457" width="9" height="1" fill="#009000"/>
<rect x="427" y="456" width="11" height="2" fill="#ffc800"/>
<rect x="428" y="457" width="9" height="1" fill="#009000"/>
<rect x="437" y="447" width="10" height="11" fill="#ffc800"/>
<rect x="438" y="448" width="8" height="10" fill="#009000"/>
<rect x="446" y="435" width="11" height="23" fill="#ffc800"/>
<rect x="447" y="436" width="9" height="22" fill="#009000"/>
<rect x="456" y="447" width="10" height="11" fill="#ffc800"/>
<rect x="457" y="448" width="8" height="10" fill="#009000"/>
<rect x="465" y="447" width="11" height="11" fill="#ffc800"/>
<rect x="466" y="448" width="9" height="10" fill="#009000"/>
<rect x="475" y="456" width="10" height="2" fill="#ffc800"/>
<rect x="476" y="457" width="8" height="1" fill="#009000"/>
<rect x="484" y="456" width="11" height="2" fill="#ffc800"/>
<rect x="485" y="457" width="9" height="1" fill="#009000"/>
<rect x="494" y="456" width="10" height="2" fill="#ffc800"/>
<rect x="495" y="457" width="8" height="1" fill="#009000"/>
<rect x="503" y="456" width="11" height="2" fill="#ffc800"/>
<rect x="504" y="457" width="9" height="1" fill="#009000"/>
<rect x="513" y="456" width="10" height="2" fill="#ffc800"/>
<rect x="514" y="457" width="8" height="1" fill="#009000"/>
<rect x="522" y="456" width="11" height="2" fill="#ffc800"/>
<rect x="523" y="457" width="9" height="1" fill="#009000"/>
<rect x="532" y="456" width="10" height="2" fill="#ffc800"/>
<rect x="533" y="457" width="8" height="1" fill="#009000"/>
<rect x="541" y="456" width="11" height="2" fill="#ffc800"/>
<rect x="542" y="457" width="9" height="1" fill="#009000"/>
<rect x="551" y="456" width="10" height="2" fill="#ffc800"/>
<rect x="552" y="457" width="8" height="1" fill="#009000"/>
<rect x="560" y="456" width="11" height="2" fill="#ffc800"/>
<rect x="561" y="457" width="9" height="1" fill="#009000"/>
<rect x="36" y="458" width="535" height="1" fill="#000"/>
<rect x="41" y="456" width="1" height="2" fill="#ffc800"/>
<rect x="50" y="456" width="1" height="2" fill="#ffc800"/>
<rect x="60" y="456" width="1" height="2" fill="#ffc800"/>
<rect x="69" y="456" width="1" height="2" fill="#ffc800"/>
<rect x="79" y="456" width="1" height="2" fill="#ffc800"/>
<rect x="88" y="456" width="1" height="2" fill="#ffc800"/>
<rect x="98" y="456" width="1" height="2" fill="#ffc800"/>
<rect x="108" y="456" width="1" height="2" fill="#ffc800"/>
<rect x="117" y="456" width="1" height="2" fill="#ffc800"/>
<rect x="127" y="456" width="1" height="2" fill="#ffc800"/>
<rect x="136" y="456" width="1" height="2" fill="#ffc800"/>
<rect x="146" y="456" width="1" height="2" fill="#ffc800"/>
<rect x="155" y="456" width="1" height="2" fill="#ffc800"/>
<rect x="165" y="456" width="1" height="2" fill="#ffc800"/>
<rect x="174" y="456" width="1" height="2" fill="#ffc800"/>
<rect x="184" y="456" width="1" height="2" fill="#ffc800"/>
<rect x="193" y="456" width="1" height="2" fill="#ffc800"/>
<rect x="203" y="456" width="1" height="2" fill="#ffc800"/>
<rect x="212" y="456" width="1" height="2" fill="#ffc800"/>
<rect x="222" y="456" width="1" height="2" fill="#ffc800"/>
<rect x="231" y="456" width="1" height="2" fill="#ffc800"/>
<rect x="241" y="456" width="1" height="2" fill="#ffc800"/>
<rect x="251" y="456" width="1" height="2" fill="#ffc800"/>
<rect x="260" y="456" width="1" height="2" fill="#ffc800"/>
<rect x="270" y="456" width="1" height="2" fill="#ffc800"/>
<rect x="279" y="456" width="1" height="2" fill="#ffc800"/>
<rect x="289" y="456" width="1" height="2" fill="#ffc800"/>
<rect x="298" y="456" width="1" height="2" fill="#ffc800"/>
<rect x="308" y="456" width="1" height="2" fill="#ffc800"/>
<rect x="317" y="456" width="1" height="2" fill="#ffc800"/>
<rect x="327" y="456" width="1" height="2" fill="#ffc800"/>
<rect x="336" y="456" width="1" height="2" fill="#ffc800"/>
<rect x="346" y="456" width="1" height="2" fill="#ffc800"/>
<rect x="355" y="456" width="1" height="2" fill="#ffc800"/>
<rect x="365" y="456" width="1" height="2" fill="#ffc800"/>
<rect x="375" y="456" width="1" height="2" fill="#ffc800"/>
<rect x="384" y="456" width="1" height="2" fill="#ffc800"/>
<rect x="394" y="456" width="1" height="2" fill="#ffc800"/>
<rect x="403" y="456" width="1" height="2" fill="#ffc800"/>
<rect x="413" y="456" width="1" height="2" fill="#ffc800"/>
<rect x="422" y="456" width="1" height="2" fill="#ffc800"/>
<rect x="432" y="456" width="1" height="2" fill="#ffc800"/>
<rect x="441" y="456" width="1" height="2" fill="#ffc800"/>
<rect x="451" y="456" width="1" height="2" fill="#ffc800"/>
<rect x="460" y="456" width="1" height="2" fill="#ffc800"/>
<rect x="470" y="456" width="1" height="2" fill="#ffc800"/>
<rect x="479" y="456" width="1" height="2" fill="#ffc800"/>
<rect x="489" y="456" width="1" height="2" fill="#ffc800"/>
<rect x="498" y="456" width="1" height="2" fill="#ffc800"/>
<rect x="508" y="456" width="1" height="2" fill="#ffc800"/>
<rect x="518" y="456" width="1" height="2" fill="#ffc800"/>
<rect x="527" y="456" width="1" height="2" fill="#ffc800"/>
<rect x="537" y="456" width="1" height="2" fill="#ffc800"/>
<rect x="546" y="456" width="1" height="2" fill="#ffc800"/>
<rect x="556" y="456" width="1" height="2" fill="#ffc800"/>
<rect x="565" y="456" width="1" height="2" fill="#ffc800"/>
<rect x="112" y="357" width="1" height="2" fill="#000"/>
<rect x="189" y="357" width="1" height="2" fill="#000"/>
<rect x="265" y="357" width="1" height="2" fill="#000"/>
<rect x="341" y="357" width="1" height="2" fill="#000"/>
<rect x="417" y="357" width="1" height="2" fill="#000"/>
<rect x="494" y="357" width="1" height="2" fill="#000"/>
<line x1="112.5" y1="457" x2="112.5" y2="356" stroke="#787878" stroke-dasharray="1 3"/>
<line x1="189.5" y1="456" x2="189.5" y2="356" stroke="#787878" stroke-dasharray="1 3"/>
<line x1="265.5" y1="459" x2="265.5" y2="356" stroke="#787878" stroke-dasharray="1 3"/>
<line x1="341.5" y1="458" x2="341.5" y2="356" stroke="#787878" stroke-dasharray="1 3"/>
<line x1="417.5" y1="457" x2="417.5" y2="356" stroke="#787878" stroke-dasharray="1 3"/>
<line x1="494.5" y1="456" x2="494.5" y2="356" stroke="#787878" stroke-dasharray="1 3"/>
<line x1="570.5" y1="459" x2="570.5" y2="356" stroke="#787878" stroke-dasharray="1 3"/>
<line x1="37" y1="413.5" x2="571" y2="413.5" stroke="#787878" stroke-dasharray="1 3"/>
<line x1="38" y1="401.5" x2="571" y2="401.5" stroke="#787878" stroke-dasharray="1 3"/>
<line x1="39" y1="379.5" x2="571" y2="379.5" stroke="#787878" stroke-dasharray="1 3"/>
<rect x="384" y="5" width="13" height="10" fill="#009000"/>
<rect x="444" y="5" width="13" height="10" fill="#f0c000"/>
<rect x="486" y="5" width="13" height="10" fill="#ff0000"/>
<rect x="546" y="5" width="13" height="10" fill="#40007f"/>
</g>
<g>
<text y="15" font-size="14"><tspan x="0.50" y="15" textLength="8.00" lengthAdjust="spacingAndGlyphs">3</tspan><tspan x="10.00" y="14" font-size="13.18" textLength="12.00" lengthAdjust="spacingAndGlyphs">-</tspan><tspan x="22.00" y="15" textLength="32.00" lengthAdjust="spacingAndGlyphs">hour</tspan> <tspan x="62.00" y="15" textLength="10.00" lengthAdjust="spacingAndGlyphs">K</tspan><tspan x="70.00" y="14" font-size="13.18" textLength="14.00" lengthAdjust="spacingAndGlyphs">-</tspan><tspan x="83.00" y="15" textLength="50.00" lengthAdjust="spacingAndGlyphs">indices</tspan> <tspan x="139.50" y="15" textLength="20.50" lengthAdjust="spacingAndGlyphs">for</tspan> <tspan x="168.00" y="15" textLength="29.00" lengthAdjust="spacingAndGlyphs">Last</tspan> <tspan x="205.00" y="15" textLength="9.50" lengthAdjust="spacingAndGlyphs">7</tspan> <tspan x="222.50" y="15" textLength="32.00" lengthAdjust="spacingAndGlyphs">days</tspan></text>
<text y="15" font-size="11" class="tk"><tspan x="336.50" y="15" textLength="40.00" lengthAdjust="spacingAndGlyphs">Legend:</tspan> <tspan x="403.00" y="15">0</tspan><tspan x="409.50" y="15" font-size="13.18" textLength="8.00" lengthAdjust="spacingAndGlyphs">-</tspan><tspan x="418.00" y="15" textLength="6.00" lengthAdjust="spacingAndGlyphs">3</tspan> <tspan x="463.00" y="15" textLength="6.50" lengthAdjust="spacingAndGlyphs">4</tspan> <tspan x="504.50" y="15" textLength="17.00" lengthAdjust="spacingAndGlyphs">5,6</tspan> <tspan x="565.00" y="15" textLength="6.00" lengthAdjust="spacingAndGlyphs">7</tspan><tspan x="571.50" y="15" font-size="13.18" textLength="8.00" lengthAdjust="spacingAndGlyphs">-</tspan><tspan x="580.00" y="15" textLength="7.00" lengthAdjust="spacingAndGlyphs">9</tspan></text>
<text class="tk" font-size="10"><tspan x="27.6" y="26" textLength="6" lengthAdjust="spacingAndGlyphs">9</tspan> <tspan x="27.6" y="35" textLength="6" lengthAdjust="spacingAndGlyphs">8</tspan> <tspan x="27.6" y="46" textLength="6" lengthAdjust="spacingAndGlyphs">7</tspan> <tspan x="27.6" y="58" textLength="6" lengthAdjust="spacingAndGlyphs">6</tspan> <tspan x="27.6" y="69" textLength="6" lengthAdjust="spacingAndGlyphs">5</tspan> <tspan x="27.6" y="80" textLength="6" lengthAdjust="spacingAndGlyphs">4</tspan> <tspan x="27.6" y="92" textLength="6" lengthAdjust="spacingAndGlyphs">3</tspan> <tspan x="27.6" y="103" textLength="6" lengthAdjust="spacingAndGlyphs">2</tspan> <tspan x="27.6" y="114" textLength="6" lengthAdjust="spacingAndGlyphs">1</tspan> <tspan x="27.6" y="122" textLength="6" lengthAdjust="spacingAndGlyphs">0</tspan></text>
<text class="tk" font-size="10"><tspan x="27.6" y="139" textLength="6" lengthAdjust="spacingAndGlyphs">9</tspan> <tspan x="27.6" y="148" textLength="6" lengthAdjust="spacingAndGlyphs">8</tspan> <tspan x="27.6" y="159" textLength="6" lengthAdjust="spacingAndGlyphs">7</tspan> <tspan x="27.6" y="171" textLength="6" lengthAdjust="spacingAndGlyphs">6</tspan> <tspan x="27.6" y="182" textLength="6" lengthAdjust="spacingAndGlyphs">5</tspan> <tspan x="27.6" y="193" textLength="6" lengthAdjust="spacingAndGlyphs">4</tspan> <tspan x="27.6" y="205" textLength="6" lengthAdjust="spacingAndGlyphs">3</tspan> <tspan x="27.6" y="216" textLength="6" lengthAdjust="spacingAndGlyphs">2</tspan> <tspan x="27.6" y="227" textLength="6" lengthAdjust="spacingAndGlyphs">1</tspan> <tspan x="27.6" y="235" textLength="6" lengthAdjust="spacingAndGlyphs">0</tspan></text>
<text class="tk" font-size="10"><tspan x="27.6" y="251" textLength="6" lengthAdjust="spacingAndGlyphs">9</tspan> <tspan x="27.6" y="260" textLength="6" lengthAdjust="spacingAndGlyphs">8</tspan> <tspan x="27.6" y="271" textLength="6" lengthAdjust="spacingAndGlyphs">7</tspan> <tspan x="27.6" y="283" textLength="6" lengthAdjust="spacingAndGlyphs">6</tspan> <tspan x="27.6" y="294" textLength="6" lengthAdjust="spacingAndGlyphs">5</tspan> <tspan x="27.6" y="305" textLength="6" lengthAdjust="spacingAndGlyphs">4</tspan> <tspan x="27.6" y="317" textLength="6" lengthAdjust="spacingAndGlyphs">3</tspan> <tspan x="27.6" y="328" textLength="6" lengthAdjust="spacingAndGlyphs">2</tspan> <tspan x="27.6" y="339" textLength="6" lengthAdjust="spacingAndGlyphs">1</tspan> <tspan x="27.6" y="347" textLength="6" lengthAdjust="spacingAndGlyphs">0</tspan></text>
<text class="tk" font-size="10"><tspan x="27.6" y="363" textLength="6" lengthAdjust="spacingAndGlyphs">9</tspan> <tspan x="27.6" y="372" textLength="6" lengthAdjust="spacingAndGlyphs">8</tspan> <tspan x="27.6" y="383" textLength="6" lengthAdjust="spacingAndGlyphs">7</tspan> <tspan x="27.6" y="395" textLength="6" lengthAdjust="spacingAndGlyphs">6</tspan> <tspan x="27.6" y="406" textLength="6" lengthAdjust="spacingAndGlyphs">5</tspan> <tspan x="27.6" y="417" textLength="6" lengthAdjust="spacingAndGlyphs">4</tspan> <tspan x="27.6" y="429" textLength="6" lengthAdjust="spacingAndGlyphs">3</tspan> <tspan x="27.6" y="440" textLength="6" lengthAdjust="spacingAndGlyphs">2</tspan> <tspan x="27.6" y="451" textLength="6" lengthAdjust="spacingAndGlyphs">1</tspan> <tspan x="27.6" y="459" textLength="6" lengthAdjust="spacingAndGlyphs">0</tspan></text>
<text y="473" font-size="11" class="tk"><tspan x="18.00" textLength="18.00" lengthAdjust="spacingAndGlyphs">Jan</tspan> <tspan x="42.00" textLength="13.00" lengthAdjust="spacingAndGlyphs">05</tspan> <tspan x="94.00" textLength="18.00" lengthAdjust="spacingAndGlyphs">Jan</tspan> <tspan x="118.00" textLength="13.00" lengthAdjust="spacingAndGlyphs">06</tspan> <tspan x="171.00" textLength="18.00" lengthAdjust="spacingAndGlyphs">Jan</tspan> <tspan x="195.00" textLength="13.00" lengthAdjust="spacingAndGlyphs">07</tspan> <tspan x="247.00" textLength="18.00" lengthAdjust="spacingAndGlyphs">Jan</tspan> <tspan x="271.00" textLength="13.00" lengthAdjust="spacingAndGlyphs">08</tspan> <tspan x="323.00" textLength="18.00" lengthAdjust="spacingAndGlyphs">Jan</tspan> <tspan x="347.00" textLength="13.00" lengthAdjust="spacingAndGlyphs">09</tspan> <tspan x="399.00" textLength="18.00" lengthAdjust="spacingAndGlyphs">Jan</tspan> <tspan x="423.50" textLength="12.50" lengthAdjust="spacingAndGlyphs">10</tspan> <tspan x="476.00" textLength="18.00" lengthAdjust="spacingAndGlyphs">Jan</tspan> <tspan x="499.50" textLength="11.50" lengthAdjust="spacingAndGlyphs">11</tspan> <tspan x="552.00" textLength="18.00" lengthAdjust="spacingAndGlyphs">Jan</tspan> <tspan x="576.50" textLength="12.50" lengthAdjust="spacingAndGlyphs">12</tspan></text>
<text y="490" font-size="13"><tspan x="192.00" y="490" textLength="70.00" lengthAdjust="spacingAndGlyphs">Coordinate</tspan> <tspan x="269.00" y="490" textLength="59.00" lengthAdjust="spacingAndGlyphs">Universal</tspan> <tspan x="335.00" y="490" textLength="29.50" lengthAdjust="spacingAndGlyphs">Time</tspan> <tspan x="372.50" y="489" font-size="15.5" textLength="4.50" lengthAdjust="spacingAndGlyphs">(</tspan><tspan x="378.50" y="490" textLength="24.00" lengthAdjust="spacingAndGlyphs">UTC</tspan><tspan x="403.00" y="489" font-size="15.5" textLength="4.50" lengthAdjust="spacingAndGlyphs">)</tspan></text>
<text y="504" font-size="13.5" style='font-family:"Liberation Serif", serif' font-weight="bold"><tspan x="0.00" textLength="59.00" lengthAdjust="spacingAndGlyphs">Updated</tspan></text>
<text y="504" font-size="13"><tspan x="66.50" textLength="33.00" lengthAdjust="spacingAndGlyphs">2018</tspan> <tspan x="106.00" textLength="23.00" lengthAdjust="spacingAndGlyphs">Jan</tspan> <tspan x="137.50" textLength="13.50" lengthAdjust="spacingAndGlyphs">11</tspan> <tspan x="159.00" textLength="35.00" lengthAdjust="spacingAndGlyphs">0030</tspan></text>
<text y="504" font-size="13"><tspan x="404.50" y="504" textLength="32.50" lengthAdjust="spacingAndGlyphs">NOAA</tspan><tspan x="438.00" y="508" font-size="22" style='font-family:"Liberation Serif",serif' textLength="8.00" lengthAdjust="spacingAndGlyphs">/</tspan><tspan x="447.50" y="504" textLength="35.00" lengthAdjust="spacingAndGlyphs">SWPC</tspan> <tspan x="490.00" y="504" textLength="53.00" lengthAdjust="spacingAndGlyphs">Boulder,</tspan> <tspan x="550.00" y="504" textLength="18.00" lengthAdjust="spacingAndGlyphs">CO</tspan> <tspan x="575.00" y="504" textLength="25.00" lengthAdjust="spacingAndGlyphs">USA</tspan></text>
<text transform="translate(13 96.50) rotate(-90)" font-size="12.5" textLength="44.50" lengthAdjust="spacingAndGlyphs">Boulder</text>
<text transform="translate(13 228.50) rotate(-90)" font-size="12.5" textLength="85.00" lengthAdjust="spacingAndGlyphs">Fredericksburg</text>
<text transform="translate(13 341.50) rotate(-90)" font-size="12.5" textLength="82.50" lengthAdjust="spacingAndGlyphs">Est. Planetary</text>
<text transform="translate(13 428.00) rotate(-90)" font-size="12.5" textLength="41.00" lengthAdjust="spacingAndGlyphs">College</text>
</g>
</svg>
</body>
</html>
